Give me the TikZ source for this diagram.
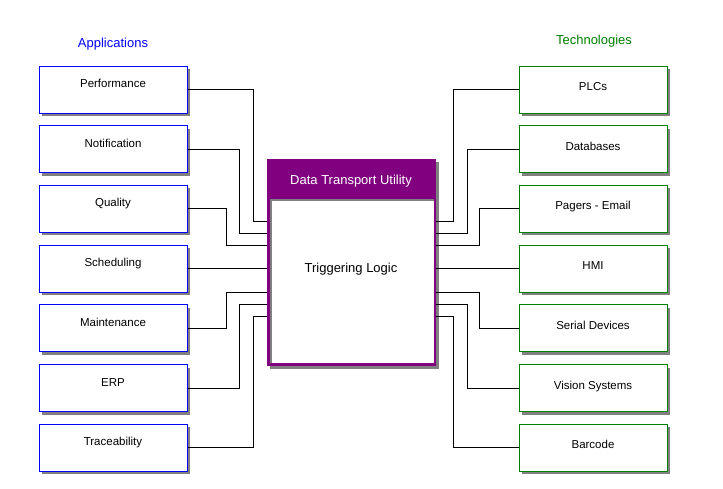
\documentclass[tikz,border=0pt]{standalone}
\usepackage{fontspec}
\setmainfont{Liberation Sans}
\usetikzlibrary{positioning, shadows}
\definecolor{dtupurple}{RGB}{128,0,128}
\definecolor{techgreen}{RGB}{0,128,0}

\begin{document}
\begin{tikzpicture}[
    x=1pt, y=-1pt,
    appbox/.style={rectangle, draw=blue, fill=white, line width=1pt, minimum width=148pt, minimum height=47pt, font=\fontsize{11.5}{13}\selectfont, text height=8pt, text depth=12pt, drop shadow={shadow xshift=3pt, shadow yshift=-3pt, fill=gray, opacity=1}},
    techbox/.style={appbox, draw=techgreen, text depth=6pt},
    heading/.style={font=\fontsize{13}{15}\selectfont},
    wire/.style={line width=1pt}
]
\useasboundingbox (0,0) rectangle (723,488);

% Headings
\node[heading, text=blue] (apps) at (113,44) {Applications};
\node[heading, text=techgreen] (techs) at (594,41) {Technologies};

% Applications
\node[appbox] (perf) at (113,89.5) {Performance};
\node[appbox, below=11.7pt of perf] (notif) {Notification};
\node[appbox, below=11.7pt of notif] (quality) {Quality};
\node[appbox, below=11.7pt of quality] (sched) {Scheduling};
\node[appbox, below=11.7pt of sched] (maint) {Maintenance};
\node[appbox, below=11.7pt of maint] (erp) {ERP};
\node[appbox, below=11.7pt of erp] (trace) {Traceability};

% Technologies
\node[techbox] (plcs) at (593,89.5) {PLCs};
\node[techbox, below=11.7pt of plcs] (dbs) {Databases};
\node[techbox, below=11.7pt of dbs] (pagers) {Pagers - Email};
\node[techbox, below=11.7pt of pagers] (hmi) {HMI};
\node[techbox, below=11.7pt of hmi] (serial) {Serial Devices};
\node[techbox, below=11.7pt of serial] (vision) {Vision Systems};
\node[techbox, below=11.7pt of vision] (barcode) {Barcode};

% Data Transport Utility
\node[rectangle, fill=dtupurple, minimum width=169pt, minimum height=207pt, drop shadow={shadow xshift=3pt, shadow yshift=-3pt, fill=gray, opacity=1}] (core) at (351.5,262.5) {};
\node[rectangle, fill=white, inner sep=0pt, minimum width=163pt, minimum height=163pt] (body) at (352.5,281.5) {};
\draw[gray, line width=1.5pt] (body.south west) -- (body.north west) -- (body.north east);
\node[heading, text=white] (dtu) at (351,181) {Data Transport Utility};
\node[heading] (trig) at (351,269) {Triggering Logic};

% Applications to utility
\draw[wire] (perf.east) -| (253,221) -- (core.west |- 253,221);
\draw[wire] (notif.east) -| (239,233) -- (core.west |- 239,233);
\draw[wire] (quality.east) -| (226,245) -- (core.west |- 226,245);
\draw[wire] (sched.east) -- (core.west |- sched.east);
\draw[wire] (maint.east) -| (226,292) -- (core.west |- 226,292);
\draw[wire] (erp.east) -| (239,304) -- (core.west |- 239,304);
\draw[wire] (trace.east) -| (253,316) -- (core.west |- 253,316);

% Utility to technologies
\draw[wire] (plcs.west) -| (453,221) -- (core.east |- 453,221);
\draw[wire] (dbs.west) -| (467,233) -- (core.east |- 467,233);
\draw[wire] (pagers.west) -| (479,245) -- (core.east |- 479,245);
\draw[wire] (hmi.west) -- (core.east |- hmi.west);
\draw[wire] (serial.west) -| (479,292) -- (core.east |- 479,292);
\draw[wire] (vision.west) -| (467,304) -- (core.east |- 467,304);
\draw[wire] (barcode.west) -| (453,316) -- (core.east |- 453,316);

\end{tikzpicture}
\end{document}
